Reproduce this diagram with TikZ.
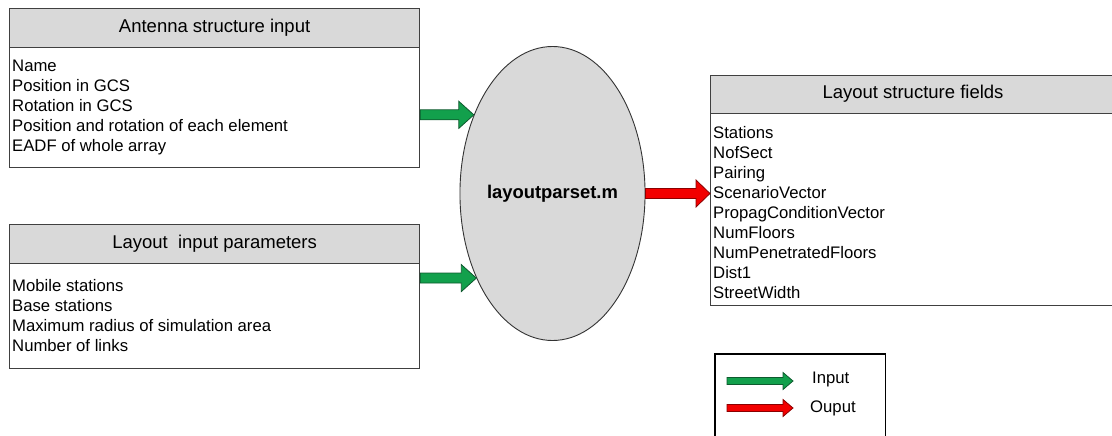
\documentclass[tikz,border=0pt]{standalone}
\usepackage{fontspec}
\setmainfont{Liberation Sans}
\usetikzlibrary{shapes.geometric,calc}
\definecolor{hdrgray}{HTML}{D9D9D9}
\definecolor{edgegray}{HTML}{404040}
\definecolor{arrgreen}{HTML}{12A04C}
\definecolor{arrgreenD}{HTML}{0E5A2E}
\definecolor{arrred}{HTML}{F20000}
\definecolor{arrredD}{HTML}{8A0000}
\tikzset{
  hdr/.style={draw=edgegray, line width=1.2pt, fill=hdrgray, anchor=north west, inner sep=0pt,
    font=\fontsize{18.5}{22}\selectfont},
  bodybox/.style={draw=edgegray, line width=1.2pt, fill=white, anchor=north west, inner sep=0pt},
  bodytext/.style={anchor=west, align=left, inner sep=0pt, font=\fontsize{16.7}{20}\selectfont},
  inarrow/.style={fill=arrgreen, draw=arrgreenD, line width=0.8pt, line join=miter},
  outarrow/.style={fill=arrred, draw=arrredD, line width=0.8pt, line join=miter}
}
% block arrow from #1 to #2 : half shaft width #3, half head width #4, head length #5, style #6
\newcommand\blkarrow[6]{%
  \path[#6] let \p1=(#1), \p2=(#2) in
    (\x1,\y1+#3) -- (\x2-#5,\y1+#3) -- (\x2-#5,\y1+#4) -- (\x2,\y1) --
    (\x2-#5,\y1-#4) -- (\x2-#5,\y1-#3) -- (\x1,\y1-#3) -- cycle;}
\begin{document}
\begin{tikzpicture}[x=1pt,y=-1pt]
\useasboundingbox (0,0) rectangle (1112,436);
% Antenna structure input
\node[bodybox, minimum width=410pt, minimum height=120pt] (antb) at (9,47) {};
\node[hdr, minimum width=410pt, minimum height=39pt] (anth) at (9,8) {Antenna structure input};
\node[bodytext] (antt) at ([xshift=3pt]antb.west) {Name\\Position in GCS\\Rotation in GCS\\Position and rotation of each element\\EADF of whole array};
% Layout input parameters
\node[bodybox, minimum width=410pt, minimum height=105pt] (layb) at (9,263) {};
\node[hdr, minimum width=410pt, minimum height=39pt] (layh) at (9,224) {Layout\ \ input parameters};
\node[bodytext] (layt) at ([xshift=3pt, yshift=1pt]layb.west) {Mobile stations\\Base stations\\Maximum radius of simulation area\\Number of links};
% Ellipse
\node[ellipse, draw=black!80, line width=0.9pt, fill=hdrgray, minimum width=181pt, minimum height=294pt, inner sep=0pt,
  font=\bfseries\fontsize{18.4}{22}\selectfont] (lp) at (552.5,193.5) {layoutparset.m};
% Layout structure fields
\node[bodybox, minimum width=405pt, minimum height=192pt] (lsb) at (710,113) {};
\node[hdr, minimum width=405pt, minimum height=38pt] (lsh) at (710,75) {};
\node[font=\fontsize{18.5}{22}\selectfont] (lsht) at (913,94) {Layout structure fields};
\node[bodytext] (lst) at ([xshift=3pt, yshift=-3pt]lsb.west) {Stations\\NofSect\\Pairing\\ScenarioVector\\PropagConditionVector\\NumFloors\\NumPenetratedFloors\\Dist1\\StreetWidth};
% connectors
\coordinate (g1s) at (antb.east |- lp.135);
\coordinate (g2s) at (layb.east |- lp.228);
\coordinate (r1e) at (lsb.west |- lp.east);
\blkarrow{g1s}{lp.135}{5pt}{13.5pt}{15pt}{inarrow}
\blkarrow{g2s}{lp.228}{5pt}{13.5pt}{15pt}{inarrow}
\blkarrow{lp.east}{r1e}{5pt}{13.5pt}{14pt}{outarrow}
% Legend
\node[minimum width=170pt, minimum height=83pt, anchor=north west, inner sep=0pt] (leg) at (715,354) {};
\draw[black, line width=1.3pt] (leg.south west) -- (leg.north west) -- (leg.north east) -- (leg.south east);
\coordinate (lg1s) at (727,381);
\coordinate (lg1e) at (793,381);
\coordinate (lg2s) at (727,408);
\coordinate (lg2e) at (793,408);
\blkarrow{lg1s}{lg1e}{3.5pt}{8.5pt}{10pt}{inarrow}
\blkarrow{lg2s}{lg2e}{3.5pt}{8.5pt}{10pt}{outarrow}
\node[bodytext] (lin) at (812,379) {Input};
\node[bodytext] (lout) at (810,408) {Ouput};
\end{tikzpicture}
\end{document}
